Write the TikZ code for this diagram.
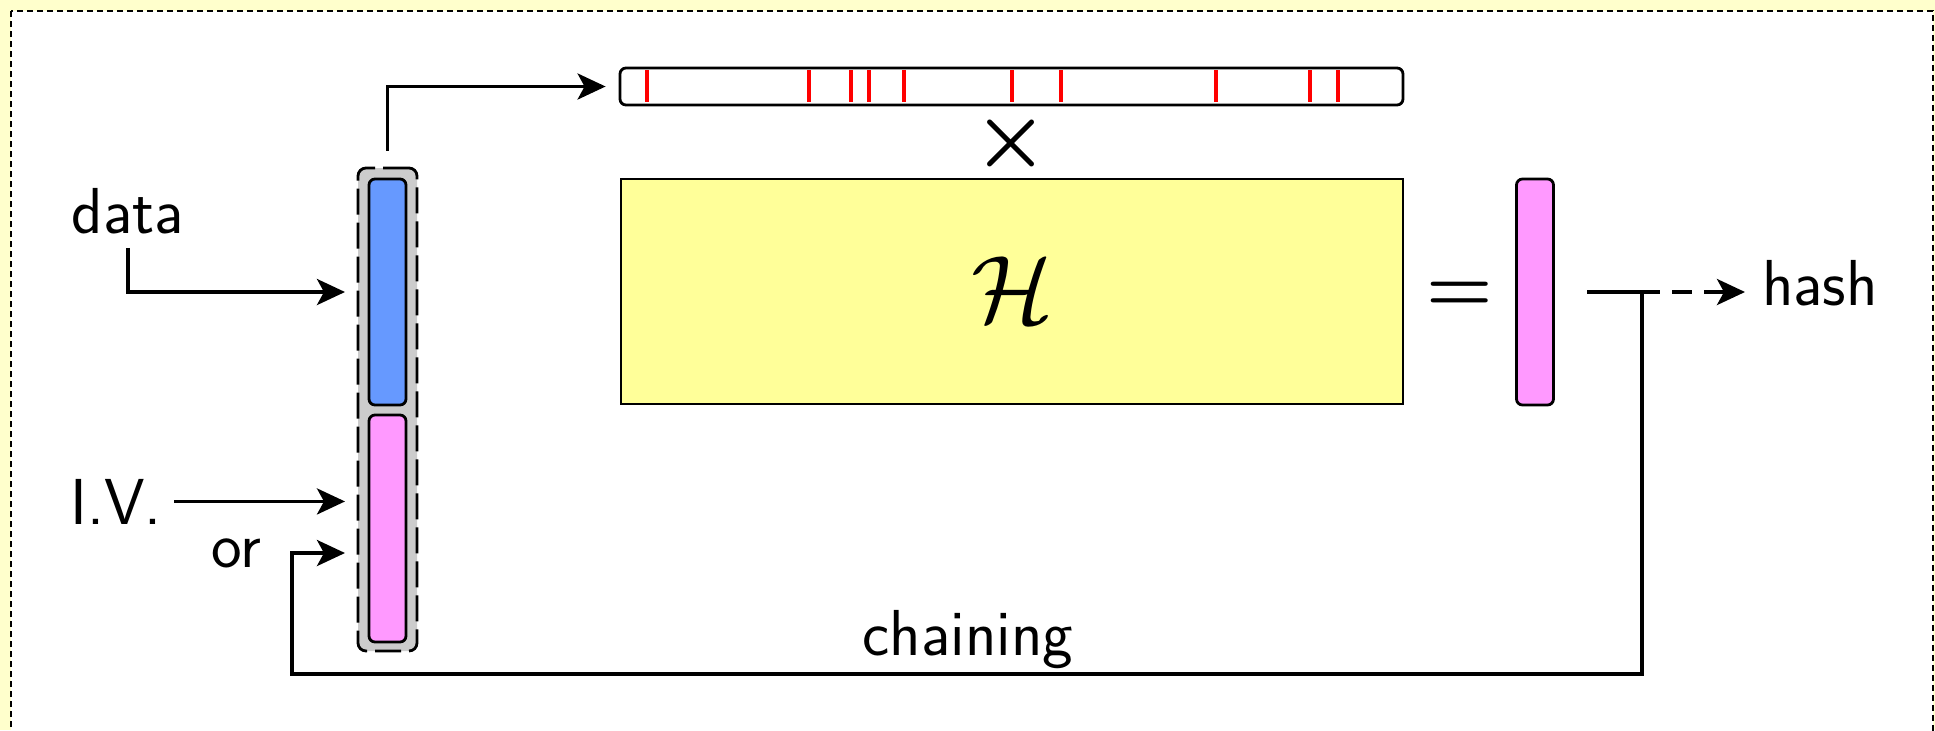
\documentclass[tikz,border=0pt]{standalone}
\usepackage{fix-cm}
\usepackage{fontspec}
\usetikzlibrary{arrows.meta}
\definecolor{bgyel}{HTML}{FFFFCC}
\definecolor{matyel}{HTML}{FFFF99}
\definecolor{vblue}{HTML}{6699FF}
\definecolor{vpink}{HTML}{FF99FF}
\definecolor{vgray}{HTML}{CCCCCC}
\definecolor{tickred}{HTML}{FF0000}
\tikzset{
  txt/.style={font=\sffamily\fontsize{32.5}{38}\selectfont, inner sep=0pt, anchor=base},
  mathtxt/.style={inner sep=0pt, anchor=base},
  vecbox/.style={draw, line width=1.4pt, rounded corners=3pt, inner sep=0pt,
    minimum width=18.5pt, minimum height=113pt},
  conn/.style={line width=1.9pt},
  arr/.style={conn, -{Stealth[length=14pt,width=13pt,inset=3.5pt]}},
  framebox/.style={draw, line width=1.2pt, dash pattern=on 3pt off 2pt},
  grpbox/.style={draw, line width=1.4pt, fill=vgray, rounded corners=4pt,
    dash pattern=on 13pt off 4pt, inner sep=0pt, minimum width=29.5pt, minimum height=241.5pt},
  tickmark/.style={draw=tickred, line width=1.8pt},
}
\begin{document}
\begin{tikzpicture}[x=0.5pt,y=-0.5pt]
\useasboundingbox (0,0) rectangle (1935,730);
\fill[bgyel] (0,0) rectangle (1935,730);
\draw[framebox, fill=white] (11,11) rectangle (1933,770);

% left input vector group
\node[grpbox] (group) at (387.5,409.5) {};
\node[vecbox, fill=vblue] (blue) at (387.5,292) {};
\node[vecbox, fill=vpink, minimum height=113.5pt] (pink) at (387.5,528.5) {};

% sparse row
\node[draw, fill=white, line width=1.4pt, rounded corners=3pt, inner sep=0pt,
  minimum width=391.5pt, minimum height=18.5pt] (topbar) at (1011.5,86.5) {};
\foreach \tx in {647,809,851,869,904,1012,1061,1216,1310,1338}
  \draw[tickmark] (\tx,70) -- (\tx,102);

% times, matrix, equals, result
\node[mathtxt, font=\fontsize{42}{44}\selectfont\boldmath] (times) at (1011,164) {$\times$};
\node[draw, fill=matyel, line width=1.2pt, inner sep=0pt,
  minimum width=391pt, minimum height=112.5pt] (H) at (1012,291.5) {};
\node[mathtxt, font=\fontsize{48}{50}\selectfont] (Hlab) at (1012,322) {$\mathcal{H}$};
\node[mathtxt, font=\fontsize{38}{40}\selectfont\boldmath] (eq) at (1460,311) {$=$};
\node[vecbox, fill=vpink] (res) at (1535,292) {};

% labels
\node[txt] (data) at (128,233) {data};
\node[txt] (iv) at (116,524) {I.V.};
\node[txt] (or) at (236,567) {or};
\node[txt] (chain) at (968,655) {chaining};
\node[txt] (hash) at (1820,305) {hash};

% coordinates
\coordinate (dataIn) at (345,292);
\coordinate (chIn) at (345,553);
\coordinate (barIn) at ([xshift=-6.5pt]topbar.west);
\coordinate (o1) at (1587,292);
\coordinate (o2) at (1660,292);
\coordinate (j) at (1642,292);
\coordinate (cb) at (1642,674);
\coordinate (cl) at (292,674);
\coordinate (hashIn) at (1745,292);

% connectors
\draw[arr] ([yshift=-7pt]data.south) |- (dataIn);
\draw[arr] ([xshift=6pt]iv.east) -- (iv.east -| dataIn);
\draw[arr] ([yshift=8pt]group.north) |- (barIn);
\draw[conn] (o1) -- (o2);
\draw[arr, dash pattern=on 10pt off 6pt, dash phase=10pt] (o2) -- (hashIn);
\draw[arr] (j) -- (cb) -- (cl) |- (chIn);
\end{tikzpicture}
\end{document}
